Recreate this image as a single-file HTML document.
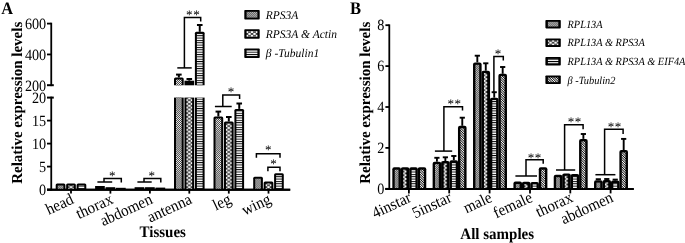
<!DOCTYPE html>
<html><head><meta charset="utf-8"><title>Figure</title>
<style>html,body{margin:0;padding:0;background:#fff;}svg{display:block;will-change:transform;}text{text-rendering:geometricPrecision;}text{font-family:'Liberation Serif','Times New Roman',serif;fill:#000;}</style>
</head><body>
<svg width="685" height="243" viewBox="0 0 685 243">
<defs>
<pattern id="pA1" width="1.45" height="1.45" patternUnits="userSpaceOnUse" patternTransform="rotate(45)"><rect width="1.45" height="1.45" fill="#000"/><rect x="0" y="0" width="1.08" height="1.08" fill="#fff"/></pattern>
<pattern id="pA2" width="5" height="3.7" patternUnits="userSpaceOnUse"><rect width="5" height="3.7" fill="#000"/><path d="M2.5 0.35 L4.5 1.85 L2.5 3.35 L0.5 1.85Z M0 -1.50 L2.0 0 L0 1.50 L-2.0 0Z M5 -1.50 L7.0 0 L5 1.50 L3.0 0Z M0 2.20 L2.0 3.7 L0 5.20 L-2.0 3.7Z M5 2.20 L7.0 3.7 L5 5.20 L3.0 3.7Z" fill="#fff"/></pattern>
<pattern id="pA3" width="60" height="2.35" patternUnits="userSpaceOnUse"><rect width="60" height="2.35" fill="#fff"/><rect width="60" height="0.95" fill="#000"/></pattern>
<pattern id="pB4" width="40" height="1.7" patternUnits="userSpaceOnUse" patternTransform="rotate(45)"><rect width="40" height="1.7" fill="#000"/><rect x="0" y="0" width="40" height="0.9" fill="#fff"/></pattern>
<pattern id="pB2" width="8.8" height="3.7" patternUnits="userSpaceOnUse"><rect width="8.8" height="3.7" fill="#000"/><path d="M0.6 -1.5 L2.2 0 L0.6 1.5 L-1.0 0Z M0.6 2.2 L2.2 3.7 L0.6 5.2 L-1.0 3.7Z M2.3 0.45 L3.8 1.85 L2.3 3.25 L0.8 1.85Z" fill="#fff"/></pattern>
</defs>
<rect width="685" height="243" fill="#fff"/>
<text transform="translate(1.20 14.00) scale(0.935 1)" font-size="17.54" text-anchor="start" font-weight="bold" font-style="normal">A</text>
<line x1="51.25" y1="22.70" x2="51.25" y2="86.10" stroke="#000" stroke-width="1.8" stroke-linecap="butt"/>
<line x1="51.25" y1="96.70" x2="51.25" y2="190.50" stroke="#000" stroke-width="1.8" stroke-linecap="butt"/>
<line x1="47.00" y1="97.60" x2="53.80" y2="97.60" stroke="#000" stroke-width="2.0" stroke-linecap="butt"/>
<line x1="47.00" y1="23.60" x2="51.25" y2="23.60" stroke="#000" stroke-width="1.8" stroke-linecap="butt"/>
<line x1="47.00" y1="54.45" x2="51.25" y2="54.45" stroke="#000" stroke-width="1.8" stroke-linecap="butt"/>
<line x1="47.00" y1="85.20" x2="53.80" y2="85.20" stroke="#000" stroke-width="2.0" stroke-linecap="butt"/>
<text transform="translate(46.20 29.00) scale(0.905 1)" font-size="15.69" text-anchor="end" font-weight="normal" font-style="normal">600</text>
<text transform="translate(46.20 59.85) scale(0.905 1)" font-size="15.69" text-anchor="end" font-weight="normal" font-style="normal">400</text>
<text transform="translate(46.20 90.50) scale(0.905 1)" font-size="15.69" text-anchor="end" font-weight="normal" font-style="normal">200</text>
<line x1="47.00" y1="189.60" x2="51.25" y2="189.60" stroke="#000" stroke-width="1.8" stroke-linecap="butt"/>
<text transform="translate(46.20 195.00) scale(0.905 1)" font-size="15.69" text-anchor="end" font-weight="normal" font-style="normal">0</text>
<line x1="47.00" y1="166.60" x2="51.25" y2="166.60" stroke="#000" stroke-width="1.8" stroke-linecap="butt"/>
<text transform="translate(46.20 172.00) scale(0.905 1)" font-size="15.69" text-anchor="end" font-weight="normal" font-style="normal">5</text>
<line x1="47.00" y1="143.60" x2="51.25" y2="143.60" stroke="#000" stroke-width="1.8" stroke-linecap="butt"/>
<text transform="translate(46.20 149.00) scale(0.905 1)" font-size="15.69" text-anchor="end" font-weight="normal" font-style="normal">10</text>
<line x1="47.00" y1="120.60" x2="51.25" y2="120.60" stroke="#000" stroke-width="1.8" stroke-linecap="butt"/>
<text transform="translate(46.20 126.00) scale(0.905 1)" font-size="15.69" text-anchor="end" font-weight="normal" font-style="normal">15</text>
<text transform="translate(46.20 103.00) scale(0.905 1)" font-size="15.69" text-anchor="end" font-weight="normal" font-style="normal">20</text>
<line x1="47.00" y1="189.70" x2="290.20" y2="189.70" stroke="#000" stroke-width="2.0" stroke-linecap="butt"/>
<line x1="71.00" y1="189.60" x2="71.00" y2="193.60" stroke="#000" stroke-width="1.8" stroke-linecap="butt"/>
<line x1="110.40" y1="189.60" x2="110.40" y2="193.60" stroke="#000" stroke-width="1.8" stroke-linecap="butt"/>
<line x1="149.90" y1="189.60" x2="149.90" y2="193.60" stroke="#000" stroke-width="1.8" stroke-linecap="butt"/>
<line x1="189.30" y1="189.60" x2="189.30" y2="193.60" stroke="#000" stroke-width="1.8" stroke-linecap="butt"/>
<line x1="228.80" y1="189.60" x2="228.80" y2="193.60" stroke="#000" stroke-width="1.8" stroke-linecap="butt"/>
<line x1="268.50" y1="189.60" x2="268.50" y2="193.60" stroke="#000" stroke-width="1.8" stroke-linecap="butt"/>
<text transform="translate(21.50 102.80) rotate(-90) scale(0.985 1)" font-size="15.23" text-anchor="middle" font-weight="bold" font-style="normal">Relative expression levels</text>
<text transform="translate(162.70 237.00) scale(0.935 1)" font-size="16.04" text-anchor="middle" font-weight="bold" font-style="normal">Tissues</text>
<text transform="translate(74.60 202.90) rotate(-25) scale(0.935 1)" font-size="16.20" text-anchor="end" font-weight="normal" font-style="normal">head</text>
<text transform="translate(114.00 202.90) rotate(-25) scale(0.935 1)" font-size="16.20" text-anchor="end" font-weight="normal" font-style="normal">thorax</text>
<text transform="translate(153.50 202.90) rotate(-25) scale(0.935 1)" font-size="16.20" text-anchor="end" font-weight="normal" font-style="normal">abdomen</text>
<text transform="translate(192.90 202.90) rotate(-25) scale(0.935 1)" font-size="16.20" text-anchor="end" font-weight="normal" font-style="normal">antenna</text>
<text transform="translate(232.40 202.90) rotate(-25) scale(0.935 1)" font-size="16.20" text-anchor="end" font-weight="normal" font-style="normal">leg</text>
<text transform="translate(272.10 202.90) rotate(-25) scale(0.935 1)" font-size="16.20" text-anchor="end" font-weight="normal" font-style="normal">wing</text>
<path d="M55.70 189.60 V185.00 Q55.70 183.50 57.20 183.50 H63.90 Q65.40 183.50 65.40 185.00 V189.60Z" fill="#000"/>
<rect x="57.70" y="185.50" width="5.70" height="4.10" fill="url(#pA1)"/>
<pattern id="q1" x="68.50" y="189.00" width="5" height="3.7" patternUnits="userSpaceOnUse"><rect width="5" height="3.7" fill="#000"/><path d="M2.5 0.35 L4.5 1.85 L2.5 3.35 L0.5 1.85Z M0 -1.50 L2.0 0 L0 1.50 L-2.0 0Z M5 -1.50 L7.0 0 L5 1.50 L3.0 0Z M0 2.20 L2.0 3.7 L0 5.20 L-2.0 3.7Z M5 2.20 L7.0 3.7 L5 5.20 L3.0 3.7Z" fill="#fff"/></pattern>
<path d="M66.15 189.60 V185.00 Q66.15 183.50 67.65 183.50 H74.35 Q75.85 183.50 75.85 185.00 V189.60Z" fill="#000"/>
<rect x="68.15" y="185.50" width="5.70" height="4.10" fill="url(#q1)"/>
<path d="M76.60 189.60 V185.00 Q76.60 183.50 78.10 183.50 H84.80 Q86.30 183.50 86.30 185.00 V189.60Z" fill="#000"/>
<rect x="78.60" y="185.50" width="5.70" height="4.10" fill="url(#pA3)"/>
<rect x="95.10" y="186.00" width="9.70" height="3.60" fill="#000"/>
<rect x="105.55" y="187.20" width="9.70" height="2.40" fill="#000"/>
<rect x="116.00" y="187.80" width="9.70" height="1.80" fill="#000"/>
<rect x="134.60" y="187.20" width="9.70" height="2.40" fill="#000"/>
<rect x="145.05" y="187.20" width="9.70" height="2.40" fill="#000"/>
<rect x="155.50" y="187.60" width="9.70" height="2.00" fill="#000"/>
<path d="M213.50 189.60 V118.00 Q213.50 116.50 215.00 116.50 H221.70 Q223.20 116.50 223.20 118.00 V189.60Z" fill="#000"/>
<rect x="215.50" y="118.50" width="5.70" height="71.10" fill="url(#pA1)"/>
<line x1="218.35" y1="116.50" x2="218.35" y2="111.60" stroke="#000" stroke-width="2.0" stroke-linecap="butt"/>
<line x1="215.55" y1="111.60" x2="221.15" y2="111.60" stroke="#000" stroke-width="2.0" stroke-linecap="butt"/>
<pattern id="q2" x="226.30" y="189.00" width="5" height="3.7" patternUnits="userSpaceOnUse"><rect width="5" height="3.7" fill="#000"/><path d="M2.5 0.35 L4.5 1.85 L2.5 3.35 L0.5 1.85Z M0 -1.50 L2.0 0 L0 1.50 L-2.0 0Z M5 -1.50 L7.0 0 L5 1.50 L3.0 0Z M0 2.20 L2.0 3.7 L0 5.20 L-2.0 3.7Z M5 2.20 L7.0 3.7 L5 5.20 L3.0 3.7Z" fill="#fff"/></pattern>
<path d="M223.95 189.60 V123.00 Q223.95 121.50 225.45 121.50 H232.15 Q233.65 121.50 233.65 123.00 V189.60Z" fill="#000"/>
<rect x="225.95" y="123.50" width="5.70" height="66.10" fill="url(#q2)"/>
<line x1="228.80" y1="121.50" x2="228.80" y2="117.00" stroke="#000" stroke-width="2.0" stroke-linecap="butt"/>
<line x1="226.00" y1="117.00" x2="231.60" y2="117.00" stroke="#000" stroke-width="2.0" stroke-linecap="butt"/>
<path d="M234.40 189.60 V110.40 Q234.40 108.90 235.90 108.90 H242.60 Q244.10 108.90 244.10 110.40 V189.60Z" fill="#000"/>
<rect x="236.40" y="110.90" width="5.70" height="78.70" fill="url(#pA3)"/>
<line x1="239.25" y1="108.90" x2="239.25" y2="103.50" stroke="#000" stroke-width="2.0" stroke-linecap="butt"/>
<line x1="236.45" y1="103.50" x2="242.05" y2="103.50" stroke="#000" stroke-width="2.0" stroke-linecap="butt"/>
<path d="M253.20 189.60 V178.20 Q253.20 176.70 254.70 176.70 H261.40 Q262.90 176.70 262.90 178.20 V189.60Z" fill="#000"/>
<rect x="255.20" y="178.70" width="5.70" height="10.90" fill="url(#pA1)"/>
<pattern id="q3" x="266.00" y="189.00" width="5" height="3.7" patternUnits="userSpaceOnUse"><rect width="5" height="3.7" fill="#000"/><path d="M2.5 0.35 L4.5 1.85 L2.5 3.35 L0.5 1.85Z M0 -1.50 L2.0 0 L0 1.50 L-2.0 0Z M5 -1.50 L7.0 0 L5 1.50 L3.0 0Z M0 2.20 L2.0 3.7 L0 5.20 L-2.0 3.7Z M5 2.20 L7.0 3.7 L5 5.20 L3.0 3.7Z" fill="#fff"/></pattern>
<path d="M263.65 189.60 V183.00 Q263.65 181.50 265.15 181.50 H271.85 Q273.35 181.50 273.35 183.00 V189.60Z" fill="#000"/>
<rect x="265.65" y="183.50" width="5.70" height="6.10" fill="url(#q3)"/>
<path d="M274.10 189.60 V174.70 Q274.10 173.20 275.60 173.20 H282.30 Q283.80 173.20 283.80 174.70 V189.60Z" fill="#000"/>
<rect x="276.10" y="175.20" width="5.70" height="14.40" fill="url(#pA3)"/>
<rect x="174.00" y="97.60" width="9.70" height="92.00" fill="#000"/>
<rect x="176.00" y="97.60" width="5.70" height="92.00" fill="url(#pA1)"/>
<path d="M174.00 85.30 V79.00 Q174.00 77.50 175.50 77.50 H182.20 Q183.70 77.50 183.70 79.00 V85.30Z" fill="#000"/>
<rect x="176.00" y="79.50" width="5.70" height="5.80" fill="url(#pA1)"/>
<line x1="178.85" y1="77.50" x2="178.85" y2="74.60" stroke="#000" stroke-width="2.0" stroke-linecap="butt"/>
<line x1="176.05" y1="74.60" x2="181.65" y2="74.60" stroke="#000" stroke-width="2.0" stroke-linecap="butt"/>
<pattern id="q4" x="186.80" y="189.00" width="5" height="3.7" patternUnits="userSpaceOnUse"><rect width="5" height="3.7" fill="#000"/><path d="M2.5 0.35 L4.5 1.85 L2.5 3.35 L0.5 1.85Z M0 -1.50 L2.0 0 L0 1.50 L-2.0 0Z M5 -1.50 L7.0 0 L5 1.50 L3.0 0Z M0 2.20 L2.0 3.7 L0 5.20 L-2.0 3.7Z M5 2.20 L7.0 3.7 L5 5.20 L3.0 3.7Z" fill="#fff"/></pattern>
<rect x="184.45" y="97.60" width="9.70" height="92.00" fill="#000"/>
<rect x="186.45" y="97.60" width="5.70" height="92.00" fill="url(#q4)"/>
<rect x="184.45" y="80.70" width="9.70" height="4.60" fill="#000"/>
<line x1="189.30" y1="80.70" x2="189.30" y2="79.00" stroke="#000" stroke-width="2.0" stroke-linecap="butt"/>
<line x1="186.50" y1="79.00" x2="192.10" y2="79.00" stroke="#000" stroke-width="2.0" stroke-linecap="butt"/>
<rect x="194.90" y="97.60" width="9.70" height="92.00" fill="#000"/>
<rect x="196.90" y="97.60" width="5.70" height="92.00" fill="url(#pA3)"/>
<path d="M194.90 85.30 V33.30 Q194.90 31.80 196.40 31.80 H203.10 Q204.60 31.80 204.60 33.30 V85.30Z" fill="#000"/>
<rect x="196.90" y="33.80" width="5.70" height="51.50" fill="url(#pA3)"/>
<line x1="199.75" y1="31.80" x2="199.75" y2="25.00" stroke="#000" stroke-width="2.0" stroke-linecap="butt"/>
<line x1="196.95" y1="25.00" x2="202.55" y2="25.00" stroke="#000" stroke-width="2.0" stroke-linecap="butt"/>
<polyline points="97.40,182.00 112.20,182.00" fill="none" stroke="#000" stroke-width="1.5" stroke-linejoin="miter"/>
<polyline points="104.00,182.00 104.00,178.40 121.30,178.40 121.30,182.40" fill="none" stroke="#000" stroke-width="1.5" stroke-linejoin="miter"/>
<text x="112.60" y="179.50" font-size="13.1" text-anchor="middle" letter-spacing="0.5" fill="#222">*</text>
<polyline points="137.40,182.00 151.70,182.00" fill="none" stroke="#000" stroke-width="1.5" stroke-linejoin="miter"/>
<polyline points="144.00,182.00 144.00,178.40 160.80,178.40 160.80,182.40" fill="none" stroke="#000" stroke-width="1.5" stroke-linejoin="miter"/>
<text x="151.90" y="179.50" font-size="13.1" text-anchor="middle" letter-spacing="0.5" fill="#222">*</text>
<polyline points="177.30,67.90 191.70,67.90" fill="none" stroke="#000" stroke-width="1.5" stroke-linejoin="miter"/>
<polyline points="184.40,67.90 184.40,17.60 200.70,17.60 200.70,21.60" fill="none" stroke="#000" stroke-width="1.5" stroke-linejoin="miter"/>
<text x="193.15" y="19.00" font-size="13.1" text-anchor="middle" letter-spacing="0.5" fill="#222">**</text>
<polyline points="214.90,106.50 231.70,106.50" fill="none" stroke="#000" stroke-width="1.5" stroke-linejoin="miter"/>
<polyline points="222.80,106.50 222.80,94.90 239.60,94.90 239.60,99.10" fill="none" stroke="#000" stroke-width="1.5" stroke-linejoin="miter"/>
<text x="231.30" y="96.00" font-size="13.1" text-anchor="middle" letter-spacing="0.5" fill="#222">*</text>
<polyline points="256.40,157.70 256.40,153.70 280.00,153.70 280.00,157.70" fill="none" stroke="#000" stroke-width="1.5" stroke-linejoin="miter"/>
<text x="268.40" y="153.60" font-size="13.1" text-anchor="middle" letter-spacing="0.5" fill="#222">*</text>
<polyline points="267.90,171.30 267.90,167.30 280.00,167.30 280.00,171.30" fill="none" stroke="#000" stroke-width="1.5" stroke-linejoin="miter"/>
<text x="273.80" y="168.30" font-size="13.1" text-anchor="middle" letter-spacing="0.5" fill="#222">*</text>
<rect x="244.30" y="9.90" width="15.40" height="9.60" rx="0.8" fill="#000"/>
<rect x="246.60" y="11.80" width="10.80" height="5.80" fill="url(#pA1)"/>
<text transform="translate(265.80 18.50) scale(0.97 1)" font-size="11.86" text-anchor="start" font-weight="normal" font-style="italic">RPS3A</text>
<pattern id="q5" x="252.00" y="32.10" width="5" height="3.7" patternUnits="userSpaceOnUse"><rect width="5" height="3.7" fill="#000"/><path d="M2.5 0.35 L4.5 1.85 L2.5 3.35 L0.5 1.85Z M0 -1.50 L2.0 0 L0 1.50 L-2.0 0Z M5 -1.50 L7.0 0 L5 1.50 L3.0 0Z M0 2.20 L2.0 3.7 L0 5.20 L-2.0 3.7Z M5 2.20 L7.0 3.7 L5 5.20 L3.0 3.7Z" fill="#fff"/></pattern>
<rect x="244.30" y="29.15" width="15.40" height="9.60" rx="0.8" fill="#000"/>
<rect x="246.60" y="31.05" width="10.80" height="5.80" fill="url(#q5)"/>
<text transform="translate(265.80 37.75) scale(0.97 1)" font-size="11.86" text-anchor="start" font-weight="normal" font-style="italic">RPS3A &amp; Actin</text>
<rect x="244.30" y="48.40" width="15.40" height="9.60" rx="0.8" fill="#000"/>
<rect x="246.60" y="50.30" width="10.80" height="5.80" fill="url(#pA3)"/>
<text transform="translate(265.80 57.00) scale(0.97 1)" font-size="11.86" text-anchor="start" font-weight="normal" font-style="italic">β -Tubulin1</text>
<line x1="47.00" y1="189.70" x2="290.20" y2="189.70" stroke="#000" stroke-width="2.0" stroke-linecap="butt"/>
<text transform="translate(349.90 14.00) scale(0.935 1)" font-size="17.75" text-anchor="start" font-weight="bold" font-style="normal">B</text>
<line x1="389.30" y1="24.40" x2="389.30" y2="189.70" stroke="#000" stroke-width="1.8" stroke-linecap="butt"/>
<line x1="385.40" y1="188.80" x2="389.30" y2="188.80" stroke="#000" stroke-width="1.8" stroke-linecap="butt"/>
<text transform="translate(384.30 194.00) scale(0.905 1)" font-size="15.69" text-anchor="end" font-weight="normal" font-style="normal">0</text>
<line x1="385.40" y1="147.90" x2="389.30" y2="147.90" stroke="#000" stroke-width="1.8" stroke-linecap="butt"/>
<text transform="translate(384.30 153.10) scale(0.905 1)" font-size="15.69" text-anchor="end" font-weight="normal" font-style="normal">2</text>
<line x1="385.40" y1="107.00" x2="389.30" y2="107.00" stroke="#000" stroke-width="1.8" stroke-linecap="butt"/>
<text transform="translate(384.30 112.20) scale(0.905 1)" font-size="15.69" text-anchor="end" font-weight="normal" font-style="normal">4</text>
<line x1="385.40" y1="66.10" x2="389.30" y2="66.10" stroke="#000" stroke-width="1.8" stroke-linecap="butt"/>
<text transform="translate(384.30 71.30) scale(0.905 1)" font-size="15.69" text-anchor="end" font-weight="normal" font-style="normal">6</text>
<line x1="385.40" y1="25.20" x2="389.30" y2="25.20" stroke="#000" stroke-width="1.8" stroke-linecap="butt"/>
<text transform="translate(384.30 30.40) scale(0.905 1)" font-size="15.69" text-anchor="end" font-weight="normal" font-style="normal">8</text>
<line x1="385.40" y1="188.90" x2="633.70" y2="188.90" stroke="#000" stroke-width="2.0" stroke-linecap="butt"/>
<line x1="408.90" y1="188.80" x2="408.90" y2="193.40" stroke="#000" stroke-width="1.8" stroke-linecap="butt"/>
<line x1="449.20" y1="188.80" x2="449.20" y2="193.40" stroke="#000" stroke-width="1.8" stroke-linecap="butt"/>
<line x1="489.60" y1="188.80" x2="489.60" y2="193.40" stroke="#000" stroke-width="1.8" stroke-linecap="butt"/>
<line x1="530.00" y1="188.80" x2="530.00" y2="193.40" stroke="#000" stroke-width="1.8" stroke-linecap="butt"/>
<line x1="570.30" y1="188.80" x2="570.30" y2="193.40" stroke="#000" stroke-width="1.8" stroke-linecap="butt"/>
<line x1="610.60" y1="188.80" x2="610.60" y2="193.40" stroke="#000" stroke-width="1.8" stroke-linecap="butt"/>
<text transform="translate(370.30 102.80) rotate(-90) scale(0.985 1)" font-size="15.23" text-anchor="middle" font-weight="bold" font-style="normal">Relative expression levels</text>
<text transform="translate(497.20 239.40) scale(0.945 1)" font-size="15.87" text-anchor="middle" font-weight="bold" font-style="normal">All samples</text>
<text transform="translate(412.40 201.10) rotate(-25) scale(0.935 1)" font-size="16.20" text-anchor="end" font-weight="normal" font-style="normal">4instar</text>
<text transform="translate(452.70 201.10) rotate(-25) scale(0.935 1)" font-size="16.20" text-anchor="end" font-weight="normal" font-style="normal">5instar</text>
<text transform="translate(493.10 201.10) rotate(-25) scale(0.935 1)" font-size="16.20" text-anchor="end" font-weight="normal" font-style="normal">male</text>
<text transform="translate(533.50 201.10) rotate(-25) scale(0.935 1)" font-size="16.20" text-anchor="end" font-weight="normal" font-style="normal">female</text>
<text transform="translate(573.80 201.10) rotate(-25) scale(0.935 1)" font-size="16.20" text-anchor="end" font-weight="normal" font-style="normal">thorax</text>
<text transform="translate(614.10 201.10) rotate(-25) scale(0.935 1)" font-size="16.20" text-anchor="end" font-weight="normal" font-style="normal">abdomen</text>
<path d="M392.32 188.80 V169.30 Q392.32 167.30 394.32 167.30 H398.92 Q400.92 167.30 400.92 169.30 V188.80Z" fill="#000"/>
<rect x="394.72" y="169.70" width="3.80" height="19.10" fill="url(#pA1)"/>
<pattern id="q6" x="403.17" y="188.20" width="8.8" height="3.7" patternUnits="userSpaceOnUse"><rect width="8.8" height="3.7" fill="#000"/><path d="M0.6 -1.5 L2.2 0 L0.6 1.5 L-1.0 0Z M0.6 2.2 L2.2 3.7 L0.6 5.2 L-1.0 3.7Z M2.3 0.45 L3.8 1.85 L2.3 3.25 L0.8 1.85Z" fill="#fff"/></pattern>
<path d="M400.77 188.80 V169.30 Q400.77 167.30 402.77 167.30 H407.37 Q409.37 167.30 409.37 169.30 V188.80Z" fill="#000"/>
<rect x="403.17" y="169.70" width="3.80" height="19.10" fill="url(#q6)"/>
<path d="M409.22 188.80 V169.30 Q409.22 167.30 411.22 167.30 H415.82 Q417.82 167.30 417.82 169.30 V188.80Z" fill="#000"/>
<rect x="411.62" y="169.70" width="3.80" height="19.10" fill="url(#pA3)"/>
<path d="M417.67 188.80 V169.30 Q417.67 167.30 419.67 167.30 H424.27 Q426.27 167.30 426.27 169.30 V188.80Z" fill="#000"/>
<rect x="420.07" y="169.70" width="3.80" height="19.10" fill="url(#pB4)"/>
<path d="M432.62 188.80 V163.70 Q432.62 161.70 434.62 161.70 H439.22 Q441.22 161.70 441.22 163.70 V188.80Z" fill="#000"/>
<rect x="435.02" y="164.10" width="3.80" height="24.70" fill="url(#pA1)"/>
<line x1="436.92" y1="161.70" x2="436.92" y2="157.80" stroke="#000" stroke-width="1.9" stroke-linecap="butt"/>
<line x1="434.32" y1="157.80" x2="439.52" y2="157.80" stroke="#000" stroke-width="1.9" stroke-linecap="butt"/>
<pattern id="q7" x="443.47" y="188.20" width="8.8" height="3.7" patternUnits="userSpaceOnUse"><rect width="8.8" height="3.7" fill="#000"/><path d="M0.6 -1.5 L2.2 0 L0.6 1.5 L-1.0 0Z M0.6 2.2 L2.2 3.7 L0.6 5.2 L-1.0 3.7Z M2.3 0.45 L3.8 1.85 L2.3 3.25 L0.8 1.85Z" fill="#fff"/></pattern>
<path d="M441.07 188.80 V163.00 Q441.07 161.00 443.07 161.00 H447.67 Q449.67 161.00 449.67 163.00 V188.80Z" fill="#000"/>
<rect x="443.47" y="163.40" width="3.80" height="25.40" fill="url(#q7)"/>
<line x1="445.37" y1="161.00" x2="445.37" y2="157.30" stroke="#000" stroke-width="1.9" stroke-linecap="butt"/>
<line x1="442.77" y1="157.30" x2="447.97" y2="157.30" stroke="#000" stroke-width="1.9" stroke-linecap="butt"/>
<path d="M449.52 188.80 V162.20 Q449.52 160.20 451.52 160.20 H456.12 Q458.12 160.20 458.12 162.20 V188.80Z" fill="#000"/>
<rect x="451.92" y="162.60" width="3.80" height="26.20" fill="url(#pA3)"/>
<line x1="453.82" y1="160.20" x2="453.82" y2="156.00" stroke="#000" stroke-width="1.9" stroke-linecap="butt"/>
<line x1="451.22" y1="156.00" x2="456.42" y2="156.00" stroke="#000" stroke-width="1.9" stroke-linecap="butt"/>
<path d="M457.97 188.80 V127.80 Q457.97 125.80 459.97 125.80 H464.57 Q466.57 125.80 466.57 127.80 V188.80Z" fill="#000"/>
<rect x="460.37" y="128.20" width="3.80" height="60.60" fill="url(#pB4)"/>
<line x1="462.27" y1="125.80" x2="462.27" y2="117.70" stroke="#000" stroke-width="1.9" stroke-linecap="butt"/>
<line x1="459.67" y1="117.70" x2="464.88" y2="117.70" stroke="#000" stroke-width="1.9" stroke-linecap="butt"/>
<path d="M473.02 188.80 V64.40 Q473.02 62.40 475.02 62.40 H479.62 Q481.62 62.40 481.62 64.40 V188.80Z" fill="#000"/>
<rect x="475.42" y="64.80" width="3.80" height="124.00" fill="url(#pA1)"/>
<line x1="477.32" y1="62.40" x2="477.32" y2="55.70" stroke="#000" stroke-width="1.9" stroke-linecap="butt"/>
<line x1="474.72" y1="55.70" x2="479.93" y2="55.70" stroke="#000" stroke-width="1.9" stroke-linecap="butt"/>
<pattern id="q8" x="483.87" y="188.20" width="8.8" height="3.7" patternUnits="userSpaceOnUse"><rect width="8.8" height="3.7" fill="#000"/><path d="M0.6 -1.5 L2.2 0 L0.6 1.5 L-1.0 0Z M0.6 2.2 L2.2 3.7 L0.6 5.2 L-1.0 3.7Z M2.3 0.45 L3.8 1.85 L2.3 3.25 L0.8 1.85Z" fill="#fff"/></pattern>
<path d="M481.47 188.80 V72.70 Q481.47 70.70 483.47 70.70 H488.07 Q490.07 70.70 490.07 72.70 V188.80Z" fill="#000"/>
<rect x="483.87" y="73.10" width="3.80" height="115.70" fill="url(#q8)"/>
<line x1="485.77" y1="70.70" x2="485.77" y2="63.30" stroke="#000" stroke-width="1.9" stroke-linecap="butt"/>
<line x1="483.17" y1="63.30" x2="488.38" y2="63.30" stroke="#000" stroke-width="1.9" stroke-linecap="butt"/>
<path d="M489.92 188.80 V99.70 Q489.92 97.70 491.92 97.70 H496.52 Q498.52 97.70 498.52 99.70 V188.80Z" fill="#000"/>
<rect x="492.32" y="100.10" width="3.80" height="88.70" fill="url(#pA3)"/>
<line x1="494.22" y1="97.70" x2="494.22" y2="92.20" stroke="#000" stroke-width="1.9" stroke-linecap="butt"/>
<line x1="491.62" y1="92.20" x2="496.82" y2="92.20" stroke="#000" stroke-width="1.9" stroke-linecap="butt"/>
<path d="M498.38 188.80 V75.80 Q498.38 73.80 500.38 73.80 H504.98 Q506.98 73.80 506.98 75.80 V188.80Z" fill="#000"/>
<rect x="500.77" y="76.20" width="3.80" height="112.60" fill="url(#pB4)"/>
<line x1="502.68" y1="73.80" x2="502.68" y2="67.00" stroke="#000" stroke-width="1.9" stroke-linecap="butt"/>
<line x1="500.07" y1="67.00" x2="505.28" y2="67.00" stroke="#000" stroke-width="1.9" stroke-linecap="butt"/>
<path d="M513.43 188.80 V183.60 Q513.43 181.60 515.43 181.60 H520.03 Q522.03 181.60 522.03 183.60 V188.80Z" fill="#000"/>
<rect x="515.83" y="184.00" width="3.80" height="4.80" fill="url(#pA1)"/>
<pattern id="q9" x="524.28" y="188.20" width="8.8" height="3.7" patternUnits="userSpaceOnUse"><rect width="8.8" height="3.7" fill="#000"/><path d="M0.6 -1.5 L2.2 0 L0.6 1.5 L-1.0 0Z M0.6 2.2 L2.2 3.7 L0.6 5.2 L-1.0 3.7Z M2.3 0.45 L3.8 1.85 L2.3 3.25 L0.8 1.85Z" fill="#fff"/></pattern>
<path d="M521.88 188.80 V183.70 Q521.88 181.70 523.88 181.70 H528.48 Q530.48 181.70 530.48 183.70 V188.80Z" fill="#000"/>
<rect x="524.28" y="184.10" width="3.80" height="4.70" fill="url(#q9)"/>
<path d="M530.33 188.80 V183.90 Q530.33 181.90 532.33 181.90 H536.93 Q538.93 181.90 538.93 183.90 V188.80Z" fill="#000"/>
<rect x="532.73" y="184.30" width="3.80" height="4.50" fill="url(#pA3)"/>
<path d="M538.78 188.80 V169.30 Q538.78 167.30 540.78 167.30 H545.38 Q547.38 167.30 547.38 169.30 V188.80Z" fill="#000"/>
<rect x="541.18" y="169.70" width="3.80" height="19.10" fill="url(#pB4)"/>
<path d="M553.73 188.80 V176.80 Q553.73 174.80 555.73 174.80 H560.33 Q562.33 174.80 562.33 176.80 V188.80Z" fill="#000"/>
<rect x="556.12" y="177.20" width="3.80" height="11.60" fill="url(#pA1)"/>
<pattern id="q10" x="564.58" y="188.20" width="8.8" height="3.7" patternUnits="userSpaceOnUse"><rect width="8.8" height="3.7" fill="#000"/><path d="M0.6 -1.5 L2.2 0 L0.6 1.5 L-1.0 0Z M0.6 2.2 L2.2 3.7 L0.6 5.2 L-1.0 3.7Z M2.3 0.45 L3.8 1.85 L2.3 3.25 L0.8 1.85Z" fill="#fff"/></pattern>
<path d="M562.18 188.80 V175.40 Q562.18 173.40 564.18 173.40 H568.78 Q570.78 173.40 570.78 175.40 V188.80Z" fill="#000"/>
<rect x="564.58" y="175.80" width="3.80" height="13.00" fill="url(#q10)"/>
<path d="M570.62 188.80 V176.10 Q570.62 174.10 572.62 174.10 H577.23 Q579.23 174.10 579.23 176.10 V188.80Z" fill="#000"/>
<rect x="573.02" y="176.50" width="3.80" height="12.30" fill="url(#pA3)"/>
<path d="M579.08 188.80 V140.90 Q579.08 138.90 581.08 138.90 H585.68 Q587.68 138.90 587.68 140.90 V188.80Z" fill="#000"/>
<rect x="581.48" y="141.30" width="3.80" height="47.50" fill="url(#pB4)"/>
<line x1="583.38" y1="138.90" x2="583.38" y2="134.00" stroke="#000" stroke-width="1.9" stroke-linecap="butt"/>
<line x1="580.77" y1="134.00" x2="585.98" y2="134.00" stroke="#000" stroke-width="1.9" stroke-linecap="butt"/>
<path d="M594.03 188.80 V182.20 Q594.03 180.20 596.03 180.20 H600.63 Q602.63 180.20 602.63 182.20 V188.80Z" fill="#000"/>
<rect x="596.43" y="182.60" width="3.80" height="6.20" fill="url(#pA1)"/>
<line x1="598.33" y1="180.20" x2="598.33" y2="179.20" stroke="#000" stroke-width="1.9" stroke-linecap="butt"/>
<line x1="595.73" y1="179.20" x2="600.93" y2="179.20" stroke="#000" stroke-width="1.9" stroke-linecap="butt"/>
<pattern id="q11" x="604.88" y="188.20" width="8.8" height="3.7" patternUnits="userSpaceOnUse"><rect width="8.8" height="3.7" fill="#000"/><path d="M0.6 -1.5 L2.2 0 L0.6 1.5 L-1.0 0Z M0.6 2.2 L2.2 3.7 L0.6 5.2 L-1.0 3.7Z M2.3 0.45 L3.8 1.85 L2.3 3.25 L0.8 1.85Z" fill="#fff"/></pattern>
<path d="M602.48 188.80 V182.00 Q602.48 180.00 604.48 180.00 H609.08 Q611.08 180.00 611.08 182.00 V188.80Z" fill="#000"/>
<rect x="604.88" y="182.40" width="3.80" height="6.40" fill="url(#q11)"/>
<line x1="606.78" y1="180.00" x2="606.78" y2="179.00" stroke="#000" stroke-width="1.9" stroke-linecap="butt"/>
<line x1="604.18" y1="179.00" x2="609.38" y2="179.00" stroke="#000" stroke-width="1.9" stroke-linecap="butt"/>
<path d="M610.93 188.80 V182.60 Q610.93 180.60 612.93 180.60 H617.53 Q619.53 180.60 619.53 182.60 V188.80Z" fill="#000"/>
<rect x="613.33" y="183.00" width="3.80" height="5.80" fill="url(#pA3)"/>
<line x1="615.23" y1="180.60" x2="615.23" y2="179.60" stroke="#000" stroke-width="1.9" stroke-linecap="butt"/>
<line x1="612.62" y1="179.60" x2="617.83" y2="179.60" stroke="#000" stroke-width="1.9" stroke-linecap="butt"/>
<path d="M619.38 188.80 V152.00 Q619.38 150.00 621.38 150.00 H625.98 Q627.98 150.00 627.98 152.00 V188.80Z" fill="#000"/>
<rect x="621.78" y="152.40" width="3.80" height="36.40" fill="url(#pB4)"/>
<line x1="623.68" y1="150.00" x2="623.68" y2="138.90" stroke="#000" stroke-width="1.9" stroke-linecap="butt"/>
<line x1="621.08" y1="138.90" x2="626.28" y2="138.90" stroke="#000" stroke-width="1.9" stroke-linecap="butt"/>
<polyline points="434.90,151.10 452.20,151.10" fill="none" stroke="#000" stroke-width="1.5" stroke-linejoin="miter"/>
<polyline points="443.90,151.10 443.90,106.80 462.50,106.80 462.50,110.60" fill="none" stroke="#000" stroke-width="1.5" stroke-linejoin="miter"/>
<text x="454.45" y="108.00" font-size="13.1" text-anchor="middle" letter-spacing="0.5" fill="#222">**</text>
<polyline points="493.90,92.00 493.90,56.40 503.30,56.40 503.30,60.40" fill="none" stroke="#000" stroke-width="1.5" stroke-linejoin="miter"/>
<text x="498.30" y="57.50" font-size="13.1" text-anchor="middle" letter-spacing="0.5" fill="#222">*</text>
<polyline points="515.40,176.00 537.00,176.00" fill="none" stroke="#000" stroke-width="1.5" stroke-linejoin="miter"/>
<polyline points="526.00,176.00 526.00,159.80 543.20,159.80 543.20,163.80" fill="none" stroke="#000" stroke-width="1.5" stroke-linejoin="miter"/>
<text x="534.85" y="161.50" font-size="13.1" text-anchor="middle" letter-spacing="0.5" fill="#222">**</text>
<polyline points="556.00,170.00 575.20,170.00" fill="none" stroke="#000" stroke-width="1.5" stroke-linejoin="miter"/>
<polyline points="564.60,170.00 564.60,124.80 583.10,124.80 583.10,129.30" fill="none" stroke="#000" stroke-width="1.5" stroke-linejoin="miter"/>
<text x="574.75" y="126.00" font-size="13.1" text-anchor="middle" letter-spacing="0.5" fill="#222">**</text>
<polyline points="595.40,174.70 615.40,174.70" fill="none" stroke="#000" stroke-width="1.5" stroke-linejoin="miter"/>
<polyline points="604.60,174.70 604.60,129.30 623.10,129.30 623.10,134.00" fill="none" stroke="#000" stroke-width="1.5" stroke-linejoin="miter"/>
<text x="614.75" y="130.50" font-size="13.1" text-anchor="middle" letter-spacing="0.5" fill="#222">**</text>
<rect x="545.40" y="19.90" width="15.40" height="8.50" rx="0.8" fill="#000"/>
<rect x="547.90" y="21.80" width="10.40" height="4.70" fill="url(#pA1)"/>
<text transform="translate(567.50 27.90) scale(0.948 1)" font-size="10.91" text-anchor="start" font-weight="normal" font-style="italic">RPL13A</text>
<pattern id="q12" x="553.10" y="40.85" width="5" height="3.7" patternUnits="userSpaceOnUse"><rect width="5" height="3.7" fill="#000"/><path d="M2.5 0.35 L4.5 1.85 L2.5 3.35 L0.5 1.85Z M0 -1.50 L2.0 0 L0 1.50 L-2.0 0Z M5 -1.50 L7.0 0 L5 1.50 L3.0 0Z M0 2.20 L2.0 3.7 L0 5.20 L-2.0 3.7Z M5 2.20 L7.0 3.7 L5 5.20 L3.0 3.7Z" fill="#fff"/></pattern>
<rect x="545.40" y="38.45" width="15.40" height="8.50" rx="0.8" fill="#000"/>
<rect x="547.90" y="40.35" width="10.40" height="4.70" fill="url(#q12)"/>
<text transform="translate(567.50 46.45) scale(0.948 1)" font-size="10.91" text-anchor="start" font-weight="normal" font-style="italic">RPL13A &amp; RPS3A</text>
<rect x="545.40" y="57.00" width="15.40" height="8.50" rx="0.8" fill="#000"/>
<rect x="547.90" y="58.90" width="10.40" height="4.70" fill="url(#pA3)"/>
<text transform="translate(567.50 65.00) scale(0.948 1)" font-size="10.91" text-anchor="start" font-weight="normal" font-style="italic">RPL13A &amp; RPS3A &amp; EIF4A</text>
<rect x="545.40" y="75.55" width="15.40" height="8.50" rx="0.8" fill="#000"/>
<rect x="547.90" y="77.45" width="10.40" height="4.70" fill="url(#pB4)"/>
<text transform="translate(567.50 83.55) scale(0.948 1)" font-size="10.91" text-anchor="start" font-weight="normal" font-style="italic">β -Tubulin2</text>
<line x1="385.40" y1="188.90" x2="633.70" y2="188.90" stroke="#000" stroke-width="2.0" stroke-linecap="butt"/>
</svg></body></html>
